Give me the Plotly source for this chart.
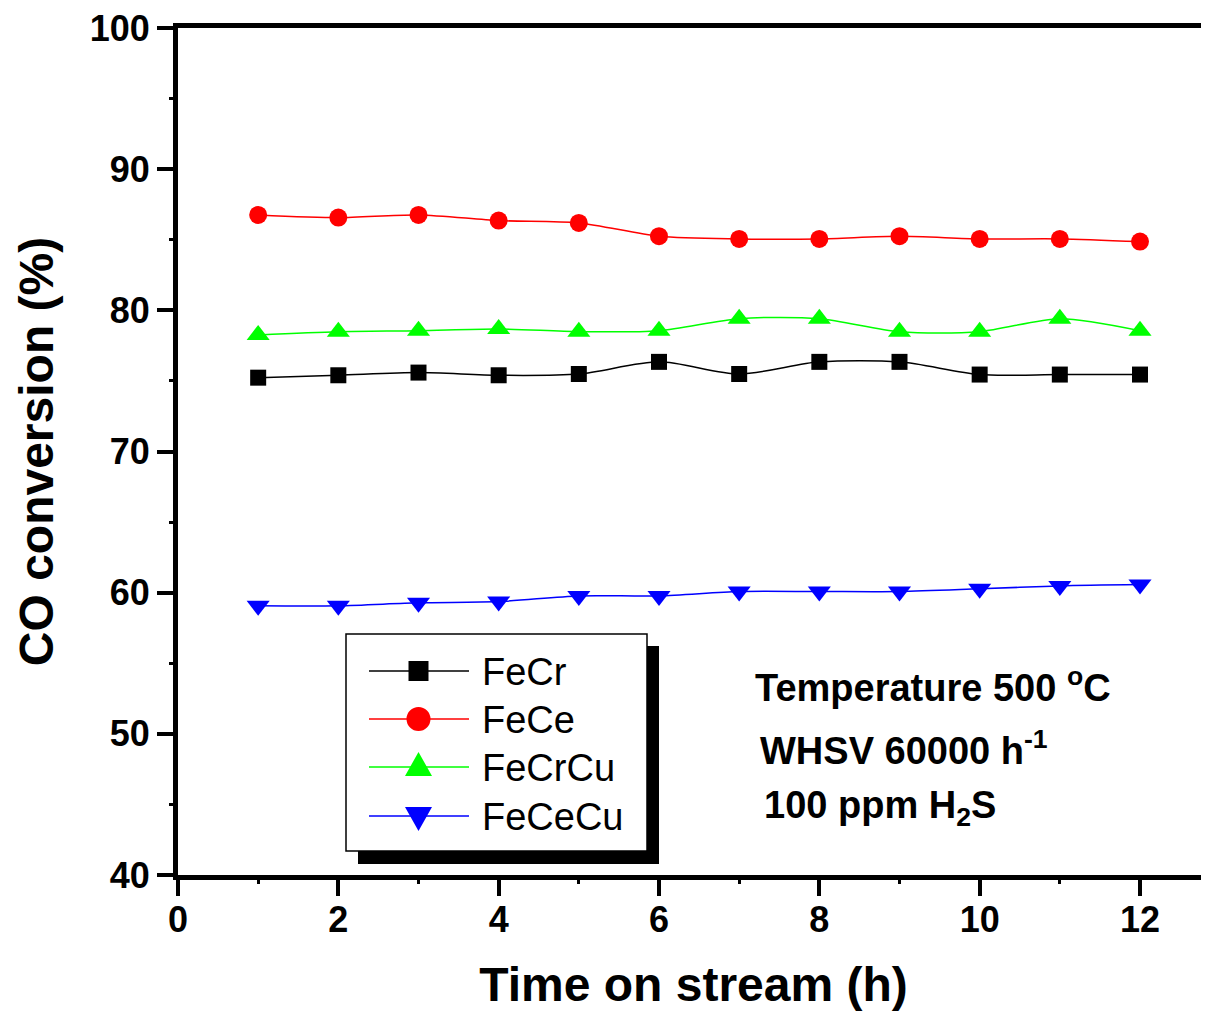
import plotly.graph_objects as go

# ---- data ----
time_h = [1, 2, 3, 4, 5, 6, 7, 8, 9, 10, 11, 12]
fecr = [75.23, 75.40, 75.59, 75.40, 75.49, 76.35, 75.49, 76.35, 76.35, 75.45, 75.45, 75.45]
fece = [86.76, 86.57, 86.76, 86.36, 86.19, 85.25, 85.06, 85.06, 85.25, 85.06, 85.06, 84.87]
fecrcu = [78.26, 78.49, 78.56, 78.68, 78.49, 78.56, 79.41, 79.41, 78.49, 78.49, 79.41, 78.56]
fececu = [59.07, 59.07, 59.28, 59.37, 59.77, 59.77, 60.08, 60.08, 60.08, 60.27, 60.48, 60.57]

series_names = ["FeCr", "FeCe", "FeCrCu", "FeCeCu"]
series_values = [fecr, fece, fecrcu, fececu]
colors = ["#000000", "#FF0000", "#00FF00", "#0000FF"]
symbols = ["square", "circle", "triangle-up", "triangle-down"]
msizes = [16, 18, 20, 20]

x_ticks = [0, 2, 4, 6, 8, 10, 12]
y_ticks = [40, 50, 60, 70, 80, 90, 100]

FONT = "Liberation Sans, Arial, sans-serif"
OFF = 8  # page body margin
W_FIG, H_FIG = 1209 - OFF, 1020 - OFF
L, R, T, B = 178 - OFF, 0, 28 - OFF, 1020 - 875
PW = W_FIG - L - R
PH = H_FIG - T - B
XMAX = PW / ((1140 - 178) / 12.0)
YR = [40, 100]


def px_x(p):
    # page pixel -> paper fraction
    return (p - OFF - L) / PW


def px_y(p):
    return (H_FIG - B - (p - OFF)) / PH


fig = go.Figure()

for name, vals, col, sym, ms in zip(series_names, series_values, colors, symbols, msizes):
    fig.add_trace(go.Scatter(x=time_h, y=vals, mode="lines+markers", name=name,
                             line=dict(color=col, width=1.5, shape="spline", smoothing=0.8),
                             marker=dict(symbol=sym, size=ms, color=col, line=dict(width=0)),
                             showlegend=False))

shapes = []
annotations = []

# legend box with shadow
shapes.append(dict(type="rect", xref="paper", yref="paper",
                   x0=px_x(358), x1=px_x(659), y0=px_y(864), y1=px_y(646),
                   fillcolor="black", line=dict(width=0), layer="above"))
shapes.append(dict(type="rect", xref="paper", yref="paper",
                   x0=px_x(346), x1=px_x(647), y0=px_y(851), y1=px_y(634),
                   fillcolor="white", line=dict(color="black", width=1.5), layer="above"))

rows = [671, 719, 767, 816]
mx = 418.5
for name, col, sym, row in zip(series_names, colors, symbols, rows):
    shapes.append(dict(type="line", xref="paper", yref="paper",
                       x0=px_x(369), x1=px_x(469), y0=px_y(row), y1=px_y(row),
                       line=dict(color=col, width=1.3), layer="above"))
    common = dict(xref="paper", yref="paper", xsizemode="pixel", ysizemode="pixel",
                  xanchor=px_x(mx), yanchor=px_y(row), fillcolor=col,
                  line=dict(width=0), layer="above")
    if sym == "square":
        shapes.append(dict(type="rect", x0=-10, x1=10, y0=-10, y1=10, **common))
    elif sym == "circle":
        shapes.append(dict(type="circle", x0=-12, x1=12, y0=-12, y1=12, **common))
    elif sym == "triangle-up":
        shapes.append(dict(type="path", path="M -13.5,-9 L 13.5,-9 L 0,15 Z", **common))
    else:
        shapes.append(dict(type="path", path="M -13.5,9 L 13.5,9 L 0,-15 Z", **common))
    annotations.append(dict(text=name, xref="paper", yref="paper", x=px_x(480), y=px_y(row + 1),
                            xanchor="left", yanchor="middle", showarrow=False,
                            font=dict(family=FONT, size=38, color="black")))

# condition notes
notes = ["Temperature 500 <sup>o</sup>C", "WHSV 60000 h<sup>-1</sup>", "100 ppm H<sub>2</sub>S"]
note_pos = [(753, 685), (758, 748), (762, 808)]
for txt, (nx, ny) in zip(notes, note_pos):
    annotations.append(dict(text=txt, xref="paper", yref="paper", x=px_x(nx), y=px_y(ny),
                            xanchor="left", yanchor="middle", showarrow=False,
                            font=dict(family=FONT, size=38, color="black", weight="bold")))

axis_common = dict(showline=True, linecolor="black", linewidth=5, showgrid=False, zeroline=False,
                   ticks="outside", ticklen=16, tickwidth=4, tickcolor="black",
                   ticklabeloverflow="allow",
                   tickfont=dict(family=FONT, size=36, color="black", weight="bold"))

fig.update_layout(
    width=W_FIG, height=H_FIG,
    margin=dict(l=L, r=R, t=T, b=B),
    paper_bgcolor="white", plot_bgcolor="white",
    showlegend=False,
    xaxis=dict(range=[0, XMAX], tickvals=x_ticks, ticktext=[str(v) for v in x_ticks],
               mirror=True, ticklabelstandoff=-7,
               minor=dict(ticks="outside", ticklen=4, tickwidth=3, tickcolor="black", dtick=1),
               title=dict(text="Time on stream (h)", standoff=30,
                          font=dict(family=FONT, size=48, color="black", weight="bold")),
               **axis_common),
    yaxis=dict(range=YR, tickvals=y_ticks, ticktext=[str(v) for v in y_ticks],
               mirror=False,
               minor=dict(ticks="outside", ticklen=4, tickwidth=3, tickcolor="black", dtick=5),
               title=dict(text="CO conversion (%)", standoff=22,
                          font=dict(family=FONT, size=48, color="black", weight="bold")),
               **axis_common),
    shapes=shapes,
    annotations=annotations,
)

fig.write_html("out.html")
